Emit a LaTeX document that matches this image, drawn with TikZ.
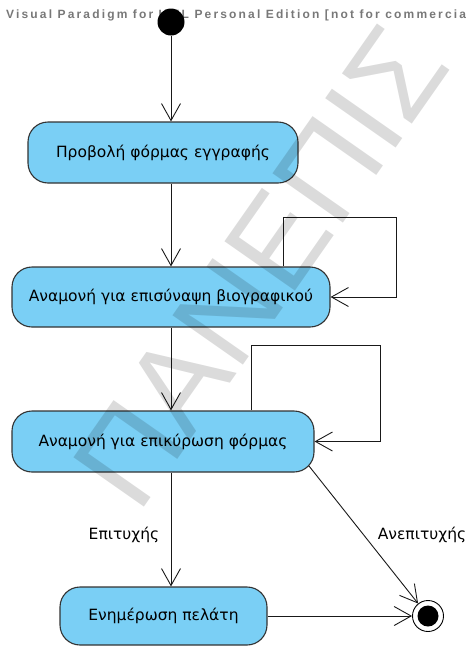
\documentclass[tikz,border=0pt]{standalone}
\usepackage{fontspec}
\usetikzlibrary{arrows.meta,calc}
\newfontfamily\nodefont{DejaVu Sans}
\newfontfamily\hdrfont[LetterSpace=18]{Liberation Sans}
\newfontfamily\wmfont{Liberation Sans}
\definecolor{actblue}{RGB}{122,207,245}
\definecolor{hdrgray}{RGB}{120,120,120}
\begin{document}
\begin{tikzpicture}[x=1pt,y=-1pt,
  act/.style={draw=black!80, line width=1.1pt, fill=actblue, rounded corners=20pt,
    minimum width=#1, minimum height=61pt, inner sep=0pt,
    font=\nodefont\fontsize{15.5}{17}\selectfont},
  arr/.style={draw=black!90, line width=0.9pt,
    -{Straight Barb[length=17pt,width=19pt,line width=0.9pt]}},
  lbl/.style={inner sep=0pt, font=\nodefont\fontsize{15.5}{17}\selectfont}]
\useasboundingbox (0,0) rectangle (470,646);
% header
\node[anchor=base west, text=hdrgray, inner sep=0pt,
  font=\hdrfont\bfseries\fontsize{12}{13}\selectfont] (hdr) at (6,18.5)
  {Visual Paradigm for UML Personal Edition [not for commercia};
% initial node
\node[circle, fill=black, minimum size=27pt, inner sep=0pt] (init) at (171,22) {};
% activities
\node[act=270pt] (b1) at (163,152.5) {Προβολή φόρμας εγγραφής};
\node[act=318pt, minimum height=60pt] (b2) at (171,297) {Αναμονή για επισύναψη βιογραφικού};
\node[act=302pt] (b3) at (163,441.5) {Αναμονή για επικύρωση φόρμας};
\node[act=207pt, minimum height=58pt] (b4) at (163.5,616) {Ενημέρωση πελάτη};
% final node
\node[circle, draw=black, line width=0.9pt, fill=white, minimum size=31pt, inner sep=0pt] (fin) at (428,616) {};
\node[circle, fill=black, minimum size=21pt, inner sep=0pt] (findot) at (fin) {};
% connectors
\coordinate (ax) at (171,0);
\draw[arr] (init) -- (b1.north -| ax);
\draw[arr] (b1.south -| ax) -- (b2.north -| ax);
\draw[arr] (b2.south -| ax) -- (b3.north -| ax);
\draw[arr] (b3.south -| ax) -- (b4.north -| ax);
\coordinate (l1a) at (283,217);
\coordinate (l1b) at (396,217);
\draw[arr] (b2.north -| l1a) -- (l1a) -- (l1b) |- (b2.east);
\coordinate (l2a) at (251,345);
\coordinate (l2b) at (380,345);
\draw[arr] (b3.north -| l2a) -- (l2a) -- (l2b) |- (b3.east);
\draw[arr] (b4.east) -- (fin);
\coordinate (c3) at (309,466);
\draw[arr] (c3) -- (fin);
% labels
\node[lbl] (lsucc) at (124,535) {Επιτυχής};
\node[lbl] (lfail) at (422,535) {Ανεπιτυχής};
% watermark
\begin{scope}
\clip (0,0) rectangle (470,646);
\node[anchor=base west, rotate=55, inner sep=0pt,
  font=\wmfont\fontsize{125}{125}\selectfont, text=black, text opacity=0.14] (wm) at (138,516) {ΠΑΝΕΠΙΣ};
\end{scope}
\end{tikzpicture}
\end{document}
